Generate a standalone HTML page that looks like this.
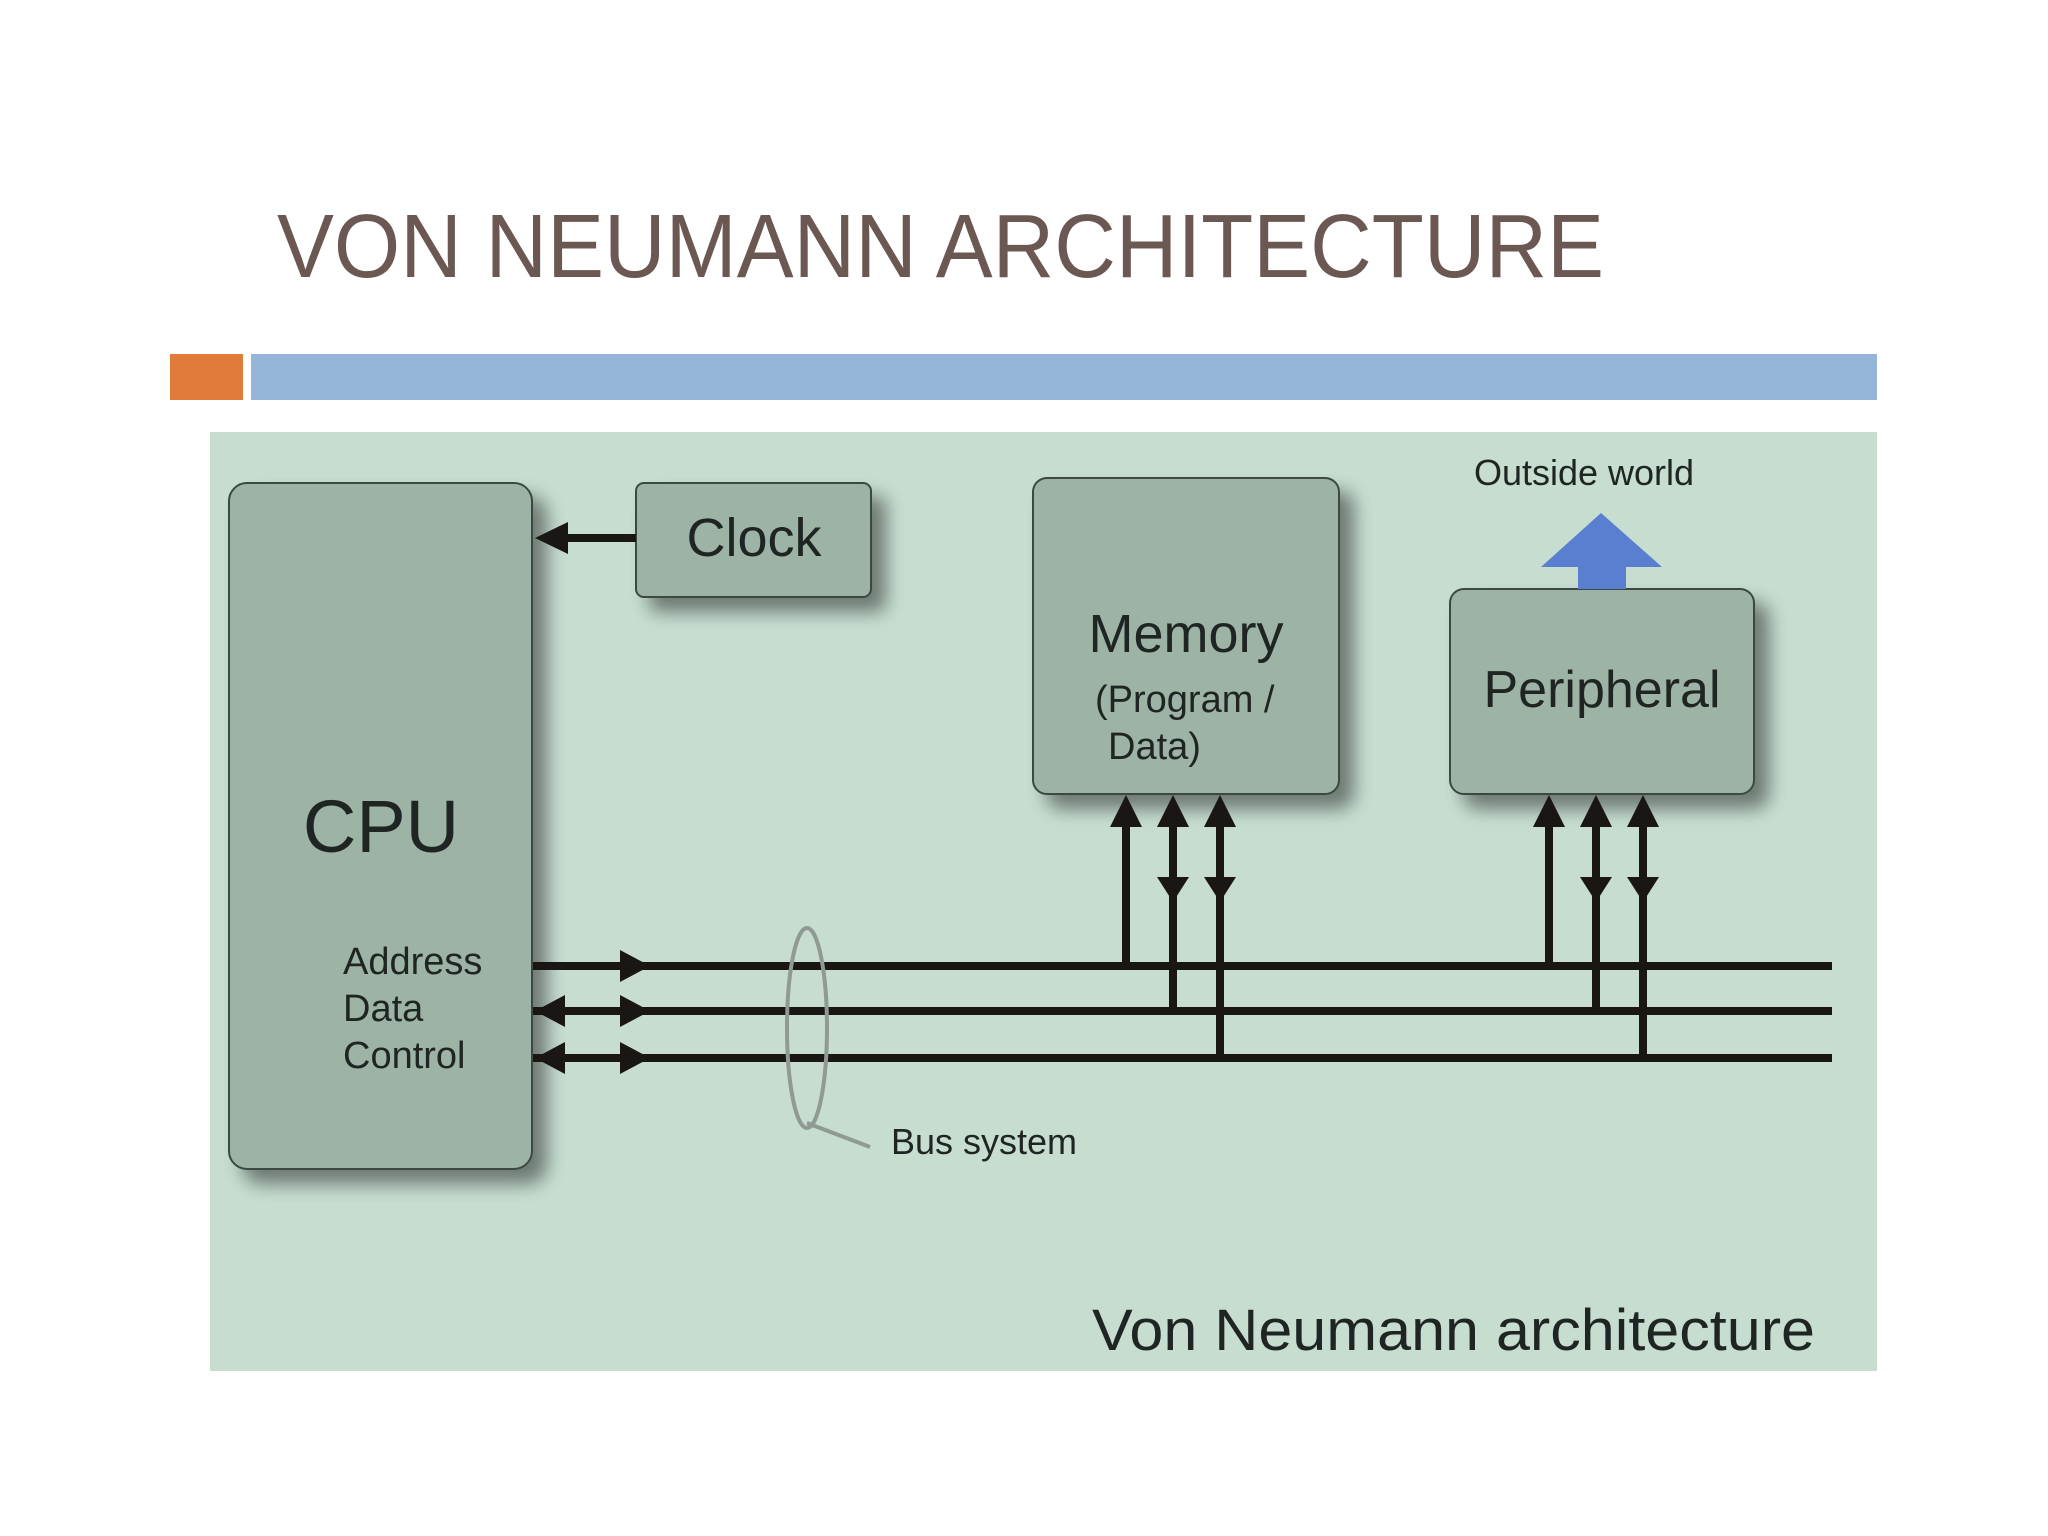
<!DOCTYPE html>
<html><head><meta charset="utf-8"><style>
html,body{margin:0;padding:0;background:#fff;}
svg{display:block;}
</style></head><body>
<svg width="2048" height="1536" viewBox="0 0 2048 1536" xmlns="http://www.w3.org/2000/svg">
<defs>
<filter id="sh" x="-20%" y="-20%" width="150%" height="150%">
<feGaussianBlur in="SourceAlpha" stdDeviation="9"/>
<feOffset dx="14" dy="14" result="o"/>
<feComponentTransfer><feFuncA type="linear" slope="0.45"/></feComponentTransfer>
<feMerge><feMergeNode/><feMergeNode in="SourceGraphic"/></feMerge>
</filter>
</defs>
<text x="277" y="277" font-family="Liberation Sans, sans-serif" font-size="90" fill="#6b5852" textLength="1327" lengthAdjust="spacingAndGlyphs">VON NEUMANN ARCHITECTURE</text>
<rect x="170" y="354" width="73" height="46" fill="#e07b39"/>
<rect x="251" y="354" width="1626" height="46" fill="#94b4d8"/>
<rect x="210" y="432" width="1667" height="939" fill="#c6ddd0"/>
<g fill="#9db3a5" stroke="#3a4a42" stroke-width="2" filter="url(#sh)">
<rect x="229" y="483" width="303" height="686" rx="18"/>
<rect x="636" y="483" width="235" height="114" rx="8"/>
<rect x="1033" y="478" width="306" height="316" rx="14"/>
<rect x="1450" y="589" width="304" height="205" rx="14"/>
</g>
<g font-family="Liberation Sans, sans-serif" fill="#1e2522">
<text x="1584" y="485" font-size="36" text-anchor="middle">Outside world</text>
<text x="754" y="556" font-size="54" text-anchor="middle">Clock</text>
<text x="1186" y="652" font-size="54" text-anchor="middle">Memory</text>
<text x="1095" y="712" font-size="38">(Program /</text>
<text x="1108" y="759" font-size="38">Data)</text>
<text x="1602" y="707" font-size="52" text-anchor="middle">Peripheral</text>
<text x="381" y="852" font-size="74" text-anchor="middle">CPU</text>
<text x="343" y="974" font-size="38">Address</text>
<text x="343" y="1021" font-size="38">Data</text>
<text x="343" y="1068" font-size="38">Control</text>
<text x="891" y="1154" font-size="36">Bus system</text>
<text x="1092" y="1350" font-size="58" textLength="723" lengthAdjust="spacingAndGlyphs">Von Neumann architecture</text>
</g>
<polygon points="1601,513 1662,567 1626,567 1626,589 1578,589 1578,567 1541,567" fill="#5b7fd0"/>
<g stroke="#1a1614" stroke-width="8" fill="none">
<line x1="533" y1="966" x2="1832" y2="966"/>
<line x1="533" y1="1011" x2="1832" y2="1011"/>
<line x1="533" y1="1058" x2="1832" y2="1058"/>
<line x1="560" y1="538" x2="636" y2="538"/>
<line x1="1126" y1="820" x2="1126" y2="966"/>
<line x1="1173" y1="820" x2="1173" y2="1011"/>
<line x1="1220" y1="820" x2="1220" y2="1058"/>
<line x1="1549" y1="820" x2="1549" y2="966"/>
<line x1="1596" y1="820" x2="1596" y2="1011"/>
<line x1="1643" y1="820" x2="1643" y2="1058"/>
</g>
<g fill="#1a1614">
<polygon points="535,538 568,522 568,554"/>
<polygon points="650,966 620,950 620,982"/>
<polygon points="650,1011 620,995 620,1027"/>
<polygon points="650,1058 620,1042 620,1074"/>
<polygon points="535,1011 565,995 565,1027"/>
<polygon points="535,1058 565,1042 565,1074"/>
<g id="m">
<polygon points="1126,795 1110,827 1142,827"/>
<polygon points="1173,795 1157,827 1189,827"/>
<polygon points="1220,795 1204,827 1236,827"/>
<polygon points="1173,902 1157,877 1189,877"/>
<polygon points="1220,902 1204,877 1236,877"/>
</g>
<use href="#m" x="423"/>
</g>
<ellipse cx="807" cy="1028" rx="20" ry="100" fill="none" stroke="#8f9a94" stroke-width="4"/>
<line x1="807" y1="1123" x2="870" y2="1147" stroke="#8f9a94" stroke-width="4"/>
</svg>
</body></html>
